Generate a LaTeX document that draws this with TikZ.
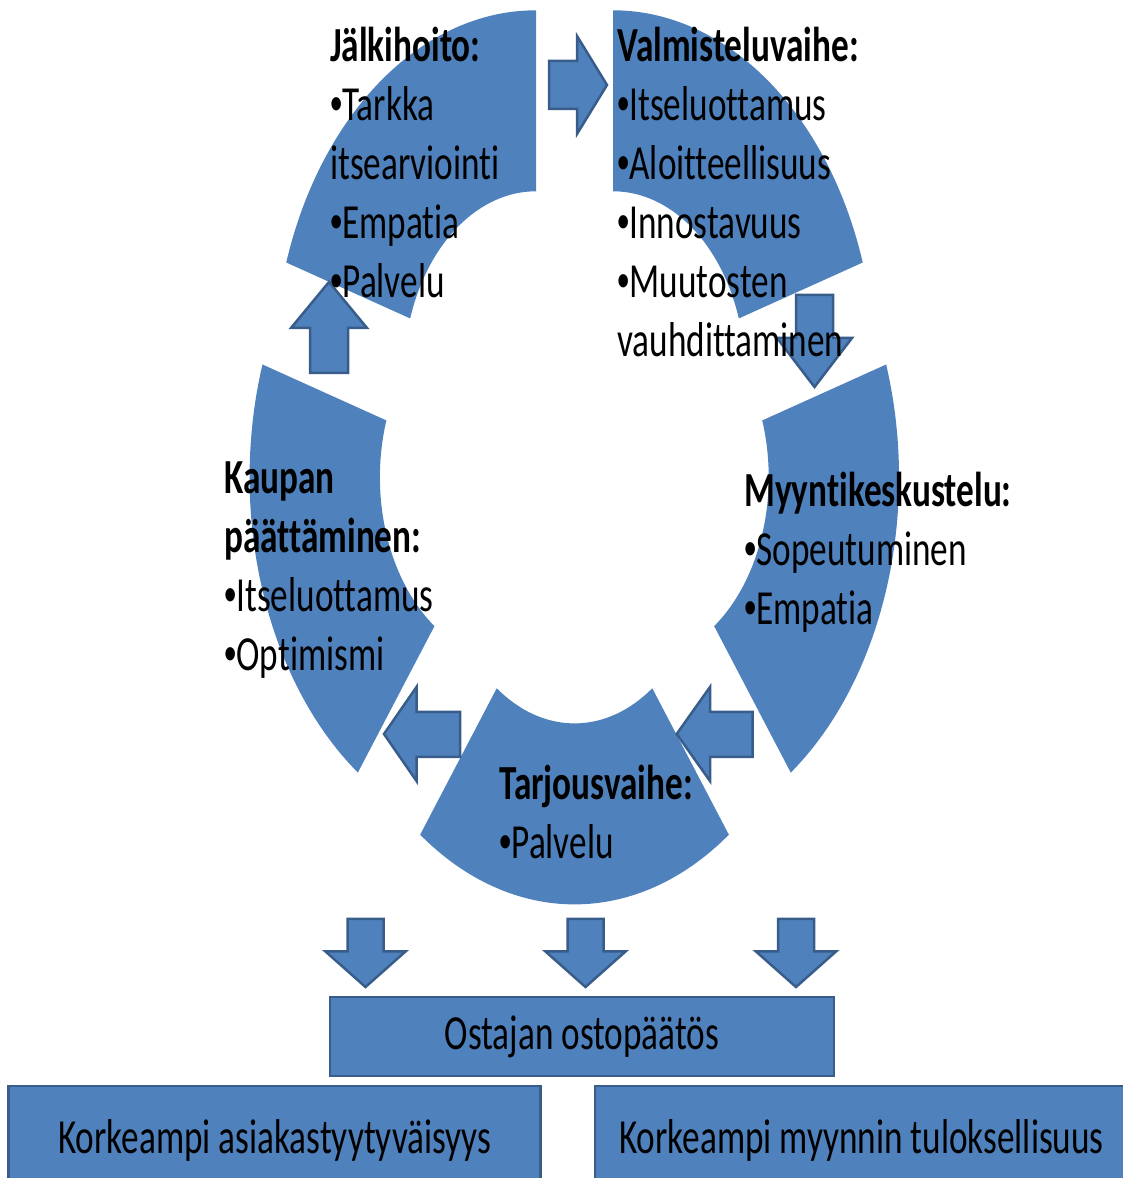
\documentclass[tikz,border=0pt]{standalone}
\usepackage{fontspec}
\setmainfont{Carlito}[FakeStretch=0.719,Ligatures=NoCommon]
\newfontfamily\bulletfont{Liberation Sans}[FakeStretch=0.719]
\newcommand{\bul}{{\bulletfont •}}
\usepackage{tikz}

\definecolor{accent}{HTML}{4F81BD}
\definecolor{accentdark}{HTML}{385D8A}

\tikzset{
  segfill/.style={fill=accent},
  blockarrow/.style={fill=accent,draw=accentdark,line width=2.5pt,line join=miter},
  outbox/.style={rectangle,fill=accent,draw=accentdark,line width=2.5pt,inner sep=0pt,
    font=\fontsize{49}{59}\selectfont},
  stage/.style={anchor=base west,align=left,inner sep=0pt,
    font=\fontsize{49}{59}\selectfont},
}

\begin{document}
\begin{tikzpicture}[x=1pt,y=1pt]
      \useasboundingbox (0,0) rectangle (1123,1178);
      \clip (0,0) rectangle (1123,1178);

      % the five pieces of the cycle
      \foreach \cx/\cy/\a/\b in {536/802.7/90/162, 613/802.7/18/90,
          636.4/700.7/-54/18, 574.5/638.6/-126/-54, 512.2/700.7/162/234}
        \fill[segfill] (\cx,\cy) ++(\a:262.6 and 365)
          arc[start angle=\a,end angle=\b,x radius=262.6,y radius=365]
          -- ++(\b+180:130.3 and 181)
          arc[start angle=\b,end angle=\a,x radius=132.3,y radius=184] -- cycle;

      % arrows between the pieces
      \draw[blockarrow] (549,1117) -- (577,1117) -- (577,1142) -- (607,1093)
        -- (577,1044) -- (577,1069) -- (549,1069) -- cycle;
      \draw[blockarrow] (796,883) -- (833,883) -- (833,840) -- (852,840)
        -- (814.5,791) -- (777,840) -- (796,840) -- cycle;
      \draw[blockarrow] (752.7,466) -- (710,466) -- (710,491) -- (676.7,444)
        -- (710,397) -- (710,421) -- (752.7,421) -- cycle;
      \draw[blockarrow] (460,466) -- (416.5,466) -- (416.5,491) -- (384,444)
        -- (416.5,397) -- (416.5,421) -- (460,421) -- cycle;
      \draw[blockarrow] (310,805) -- (348,805) -- (348,850) -- (367,850)
        -- (329,896) -- (291,850) -- (310,850) -- cycle;

      % arrows down to the decision
      \foreach \x in {365.5,585.5,796}
        \draw[blockarrow] (\x-18,259) -- (\x+18,259) -- (\x+18,226.5) -- (\x+40,226.5)
          -- (\x,191) -- (\x-40,226.5) -- (\x-18,226.5) -- cycle;

      \node[outbox,minimum width=504pt,minimum height=79pt] (decision) at (582,141.5) {Ostajan ostopäätös};
      \node[outbox,minimum width=532pt,minimum height=108pt] (satisfaction) at (274.7,38) {Korkeampi asiakastyytyväisyys};
      \node[outbox,minimum width=533pt,minimum height=108pt] (performance) at (861.5,38) {Korkeampi myynnin tuloksellisuus};

      % texts, placed by the baseline of their last line
      \node[stage] (aftercare) at (330,880) {\textbf{Jälkihoito:}\\\bul Tarkka\\itsearviointi\\\bul Empatia\\\bul Palvelu};
      \node[stage] (preparation) at (617,821) {\textbf{Valmisteluvaihe:}\\\bul Itseluottamus\\\bul Aloitteellisuus\\\bul Innostavuus\\\bul Muutosten\\vauhdittaminen};
      \node[stage] (discussion) at (744,553) {\textbf{Myyntikeskustelu:}\\\bul Sopeutuminen\\\bul Empatia};
      \node[stage] (offer) at (499,319) {\textbf{Tarjousvaihe:}\\\bul Palvelu};
      \node[stage] (closing) at (224,507) {\textbf{Kaupan}\\\textbf{päättäminen:}\\\bul Itseluottamus\\\bul Optimismi};
    \end{tikzpicture}
\end{document}
